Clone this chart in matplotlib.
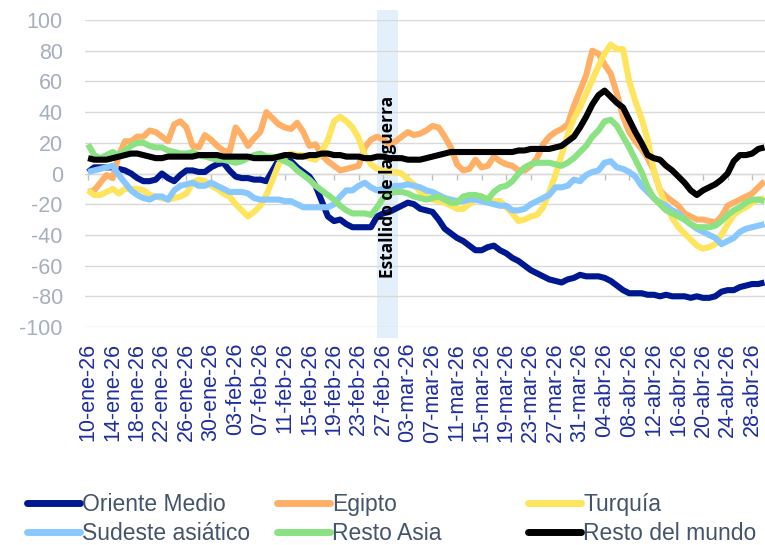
import numpy as np
import pandas as pd
import matplotlib
matplotlib.use("Agg")
import matplotlib.pyplot as plt
from matplotlib.lines import Line2D

plt.rcParams['font.family'] = ['Liberation Sans', 'DejaVu Sans']
plt.rcParams['axes.unicode_minus'] = False

fechas = pd.date_range('2026-01-10', '2026-04-30', freq='D')

oriente_medio = [1, 4, 4, 4, 4, 3, 2, 0, -3, -5,
                 -5, -4, 0, -3, -5, -1, 2, 2, 1, 1,
                 4, 6, 7, 2, -2, -3, -3, -4, -4, -5,
                 2, 9, 11, 8, 4, 1, -2, -8, -18, -28,
                 -31, -30, -33, -35, -35, -35, -35, -28, -26, -25,
                 -23, -21, -19, -20, -23, -24, -25, -30, -36, -39,
                 -42, -44, -47, -50, -50, -48, -47, -50, -52, -55,
                 -57, -60, -63, -65, -67, -69, -70, -71, -69, -68,
                 -66, -67, -67, -67, -68, -70, -73, -76, -78, -78,
                 -78, -79, -79, -80, -79, -80, -80, -80, -81, -80,
                 -81, -81, -80, -77, -76, -76, -74, -73, -72, -72, -71]
egipto = [-12, -11, -6, -1, -3, 12, 21, 21, 24, 24,
          28, 27, 24, 21, 32, 34, 30, 18, 17, 25,
          22, 18, 15, 14, 30, 25, 18, 23, 27, 40,
          36, 32, 30, 29, 33, 27, 18, 19, 12, 8,
          5, 2, 3, 4, 5, 17, 22, 24, 22, 19,
          21, 24, 27, 25, 26, 28, 31, 30, 24, 17,
          6, 2, 3, 9, 4, 5, 11, 8, 6, 5,
          2, 2, 5, 10, 19, 24, 27, 29, 32, 44,
          54, 64, 80, 78, 71, 65, 52, 37, 27, 21,
          16, 10, 2, -11, -15, -18, -21, -26, -28, -30,
          -30, -31, -32, -28, -21, -19, -17, -15, -13, -9, -5]
turquia = [-11, -14, -14, -12, -10, -13, -10, -10, -10, -11,
           -14, -15, -16, -17, -16, -15, -13, -6, -4, -5,
           -8, -10, -13, -15, -20, -24, -28, -25, -21, -14,
           -4, 6, 11, 13, 12, 12, 10, 9, 14, 22,
           34, 37, 34, 30, 23, 12, 6, 3, 2, 1,
           1, 0, -4, -7, -12, -15, -17, -18, -19, -21,
           -23, -23, -20, -17, -15, -17, -18, -18, -22, -26,
           -31, -30, -28, -27, -22, -12, -1, 12, 25, 36,
           43, 52, 61, 70, 78, 84, 81, 81, 60, 47,
           36, 22, 2, -11, -21, -29, -35, -39, -43, -47,
           -49, -48, -46, -40, -33, -27, -24, -22, -19, -17, -16]
sudeste_asiatico = [1, 2, 3, 4, 5, -1, -6, -11, -14, -16,
                    -17, -15, -15, -17, -11, -8, -7, -6, -8, -8,
                    -6, -8, -10, -12, -12, -12, -13, -16, -17, -17,
                    -17, -17, -18, -18, -20, -22, -22, -22, -22, -22,
                    -20, -15, -11, -11, -8, -6, -9, -11, -10, -9,
                    -8, -8, -7, -8, -9, -11, -12, -14, -16, -17,
                    -18, -18, -17, -17, -18, -19, -20, -21, -21, -24,
                    -24, -23, -20, -18, -16, -14, -9, -9, -8, -4,
                    -5, -1, 1, 2, 7, 8, 4, 3, 1, -2,
                    -8, -12, -16, -19, -21, -24, -26, -30, -33, -36,
                    -38, -40, -42, -46, -44, -42, -38, -36, -35, -34, -33]
resto_asia = [19, 12, 10, 12, 14, 12, 15, 18, 20, 20,
              18, 17, 17, 15, 14, 13, 13, 14, 12, 11,
              10, 9, 9, 8, 7, 8, 10, 12, 13, 11,
              11, 10, 8, 6, 2, -1, -4, -8, -11, -14,
              -17, -21, -24, -26, -26, -26, -27, -22, -16, -13,
              -12, -12, -13, -15, -16, -17, -16, -15, -17, -19,
              -19, -15, -14, -14, -15, -17, -12, -9, -8, -5,
              0, 4, 6, 7, 7, 7, 6, 5, 7, 10,
              14, 18, 24, 28, 34, 35, 31, 24, 17, 9,
              1, -9, -16, -20, -24, -26, -28, -30, -33, -35,
              -35, -35, -34, -31, -27, -24, -22, -19, -17, -17, -18]
resto_mundo = [10, 9, 9, 9, 10, 11, 12, 13, 13, 12,
               11, 10, 10, 11, 11, 11, 11, 11, 12, 12,
               12, 12, 11, 11, 11, 11, 11, 10, 10, 10,
               10, 11, 12, 12, 11, 11, 12, 12, 13, 13,
               12, 12, 11, 11, 11, 10, 10, 11, 11, 10,
               10, 10, 9, 9, 9, 10, 11, 12, 13, 14,
               14, 14, 14, 14, 14, 14, 14, 14, 14, 14,
               15, 15, 16, 16, 16, 16, 17, 18, 21, 24,
               30, 37, 45, 51, 54, 50, 46, 43, 35, 27,
               20, 12, 10, 9, 5, 2, -2, -6, -11, -14,
               -11, -9, -7, -4, 0, 8, 12, 12, 13, 16, 17]

nombres = ['Oriente Medio', 'Egipto', 'Turquía',
           'Sudeste asiático', 'Resto Asia', 'Resto del mundo']
series = [oriente_medio, egipto, turquia, sudeste_asiatico, resto_asia, resto_mundo]
colores = ['#00188F', '#FFB066', '#FFE45E', '#88C8FF', '#8BE282', '#000000']

guerra_ini = pd.Timestamp('2026-02-26')
guerra_fin = pd.Timestamp('2026-03-01 10:00')

meses = {1: 'ene', 2: 'feb', 3: 'mar', 4: 'abr'}

fig = plt.figure(figsize=(7.65, 5.45), dpi=100)
ax = fig.add_axes([85 / 765, 218 / 545, 680 / 765, 307 / 545])

ax.axvspan(guerra_ini, guerra_fin, ymin=-0.036, ymax=1.033, color='#E3F0FB',
           lw=0, zorder=0, clip_on=False)

for s, nom, c in zip(series, nombres, colores):
    ax.plot(fechas, s, color=c, lw=4.4, solid_joinstyle='round',
            solid_capstyle='butt', label=nom, zorder=3)

ax.text(guerra_ini + (guerra_fin - guerra_ini) / 2, -8.5, 'Estallido de la guerra',
        rotation=90, ha='center', va='center', fontsize=12.5, fontweight='bold',
        family=['Open Sans', 'DejaVu Sans'], color='black', zorder=5)

ax.set_ylim(-100, 100)
ax.set_yticks(np.arange(-100, 101, 20))
ax.set_xlim(fechas[0] - pd.Timedelta(hours=12), fechas[-1] + pd.Timedelta(hours=2))
ticks = fechas[::4]
ax.set_xticks(ticks)
ax.set_xticklabels(['%02d-%s-%02d' % (d.day, meses[d.month], d.year % 100) for d in ticks])

ax.grid(axis='y', color='#D9D9D9', lw=1.0, zorder=1)
ax.set_axisbelow(True)
for sp in ['top', 'right', 'left']:
    ax.spines[sp].set_visible(False)
ax.spines['bottom'].set_position(('data', 0))
ax.spines['bottom'].set_color('#D9D9D9')
ax.spines['bottom'].set_linewidth(1.0)
ax.tick_params(axis='x', direction='out', length=4, width=1, color='#BFBFBF',
               pad=118, labelsize=15.5, labelcolor='#1E2F9E', labelrotation=90)
ax.tick_params(axis='y', length=0, pad=16, labelsize=15.5, labelcolor='#A6AFBC')
for t in ax.get_xticklabels():
    t.set_ha('center')
    t.set_va('top')

cols = [(27, [0, 3]), (277, [1, 4]), (528, [2, 5])]
for x0, idx in cols:
    handles = [Line2D([], [], color=colores[i], lw=5, solid_capstyle='round') for i in idx]
    leg = fig.legend(handles, [nombres[i] for i in idx], loc='center left',
                     bbox_to_anchor=(x0 / 765, 1 - 519 / 545), frameon=False,
                     fontsize=16.5, handlelength=2.3, handletextpad=0.12,
                     labelspacing=0.22, borderpad=0, borderaxespad=0)
    for t in leg.get_texts():
        t.set_color('#44546A')

fig.savefig('out.png', dpi=100)
